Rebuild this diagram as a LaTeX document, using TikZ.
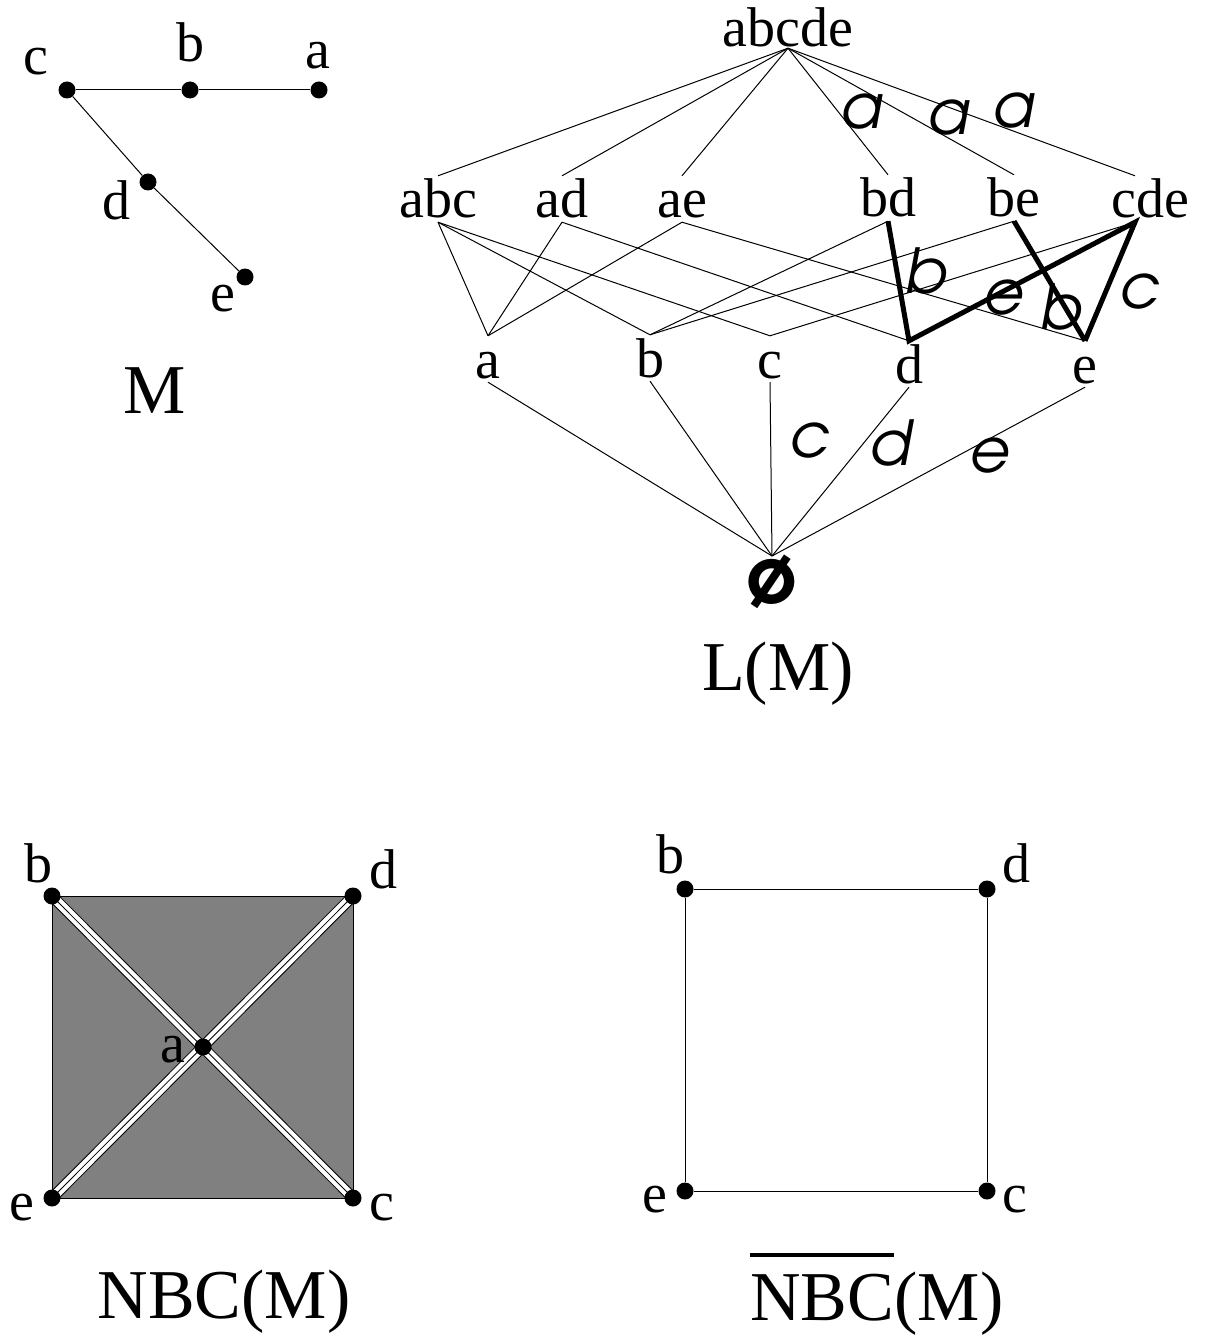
\documentclass[tikz,border=0pt]{standalone}
\usepackage{fontspec}
\setmainfont{Liberation Serif}
\usetikzlibrary{positioning,backgrounds}

\tikzset{
  lbl/.style={font=\fontsize{56}{60}\selectfont, inner sep=0pt, anchor=base},
  flat/.style={font=\fontsize{56}{60}\selectfont, inner sep=4pt, text height=38pt, text depth=0pt, anchor=base},
  ttl/.style={font=\fontsize{70}{80}\selectfont, inner sep=0pt, anchor=base},
  elbl/.style={font=\usefont{OT1}{pag}{m}{sl}\fontsize{62}{66}\selectfont, inner sep=0pt},
  dot/.style={circle, fill=black, inner sep=0pt, minimum size=17pt},
  link/.style={line width=1pt},
  heavy/.style={line width=5pt},
  tube/.style={draw=black, line width=0.8pt, preaction={draw=black, line width=11pt}, preaction={draw=white, line width=9pt}},
}

\begin{document}
\begin{tikzpicture}[x=1pt,y=-1pt]
\useasboundingbox (0,0) rectangle (1212,1337);

% the matroid M
\node[dot] (mc) at (67,90) {};
\node[dot] (mb) at (190,90) {};
\node[dot] (ma) at (319,90) {};
\node[dot] (md) at (148,182) {};
\node[dot] (me) at (245,277) {};
\draw[link] (mc) -- (mb) -- (ma);
\draw[link] (mc) -- (md) -- (me);

\node[lbl] (mcl) at (36,75) {c};
\node[lbl] (mbl) at (190,62) {b};
\node[lbl] (mal) at (318,69) {a};
\node[lbl] (mdl) at (116,220) {d};
\node[lbl] (mel) at (223,312) {e};
\node[ttl] (mtitle) at (155,413) {M};

% the lattice L(M)
\node[flat, inner sep=1pt] (top) at (788,47) {abcde};
\node[flat] (abc) at (438,218) {abc};
\node[flat] (ad) at (562,218) {ad};
\node[flat] (ae) at (682,218) {ae};
\node[flat] (bd) at (888,217) {bd};
\node[flat] (be) at (1014,217) {be};
\node[flat] (cde) at (1150,218) {cde};
\node[flat] (la) at (488,378) {a};
\node[flat] (lb) at (650,377) {b};
\node[flat] (lc) at (770,378) {c};
\node[flat] (ld) at (909,383) {d};
\node[flat] (le) at (1085,383) {e};
\node[font=\usefont{OT1}{pag}{b}{n}\fontsize{78}{80}\selectfont, inner sep=0pt, anchor=north] (empty) at (772,556) {\o};
\node[ttl] (ltitle) at (778,690) {L(M)};

\foreach \f in {abc,ad,ae,bd,be}
  \draw[link] (top.south) -- (\f.north);
\draw[link] (top.south) -- ([xshift=-15pt]cde.north);

\foreach \f/\g in {abc/la,abc/lb,abc/lc,ad/la,ad/ld,ae/la,ae/le,bd/lb,be/lb}
  \draw[link] (\f.south) -- (\g.north);
\draw[link] ([xshift=-15pt]cde.south) -- (lc.north);

\draw[heavy] (bd.south) -- (ld.north) -- ([xshift=-15pt]cde.south) -- (le.north);
\draw[heavy] (be.south) -- (le.north);

\foreach \g in {la,lb,lc,ld,le}
  \draw[link] (\g.south) -- (empty.north);

\node[elbl] (ea1) at (860,111) {a};
\node[elbl] (ea2) at (947,117) {a};
\node[elbl] (ea3) at (1012,110) {a};
\node[elbl] (eb1) at (925,271) {b};
\node[elbl] (ee1) at (1002,297) {e};
\node[elbl] (eb2) at (1060,307) {b};
\node[elbl] (ec1) at (1138,291) {c};
\node[elbl] (ec2) at (808,440) {c};
\node[elbl] (ed2) at (889,443) {d};
\node[elbl] (ee2) at (988,455) {e};

% the complex NBC(M)
\node[dot] (sb) at (52,896) {};
\node[dot] (sd) at (353,896) {};
\node[dot] (se) at (52,1198) {};
\node[dot] (sc) at (353,1198) {};
\node[dot] (sa) at (203,1047) {};
\begin{pgfonlayer}{background}
\draw[link, fill=gray] (sb.center) rectangle (sc.center);
\draw[tube] (sb.center) -- (sc.center);
\draw[tube] (sd.center) -- (se.center);
\end{pgfonlayer}

\node[lbl] (sbl) at (38,882) {b};
\node[lbl] (sdl) at (383,888) {d};
\node[lbl] (sal) at (173,1062) {a};
\node[lbl] (sel) at (22,1220) {e};
\node[lbl] (scl) at (382,1220) {c};
\node[ttl] (nbctitle) at (224,1318) {NBC(M)};

% the reduced complex
\node[dot] (qb) at (685,889) {};
\node[dot] (qd) at (987,889) {};
\node[dot] (qe) at (685,1191) {};
\node[dot] (qc) at (987,1191) {};
\draw[link] (qb) -- (qd) -- (qc) -- (qe) -- (qb);

\node[lbl] (qbl) at (670,873) {b};
\node[lbl] (qdl) at (1016,882) {d};
\node[lbl] (qel) at (655,1212) {e};
\node[lbl] (qcl) at (1015,1212) {c};
\node[ttl, anchor=base west] (nbc) at (750,1320) {NBC};
\node[ttl, anchor=base west] (nbcm) at (nbc.base east) {(M)};
\draw[line width=4pt] ([yshift=18pt]nbc.north west) -- ([yshift=18pt]nbc.north east);

\end{tikzpicture}
\end{document}
